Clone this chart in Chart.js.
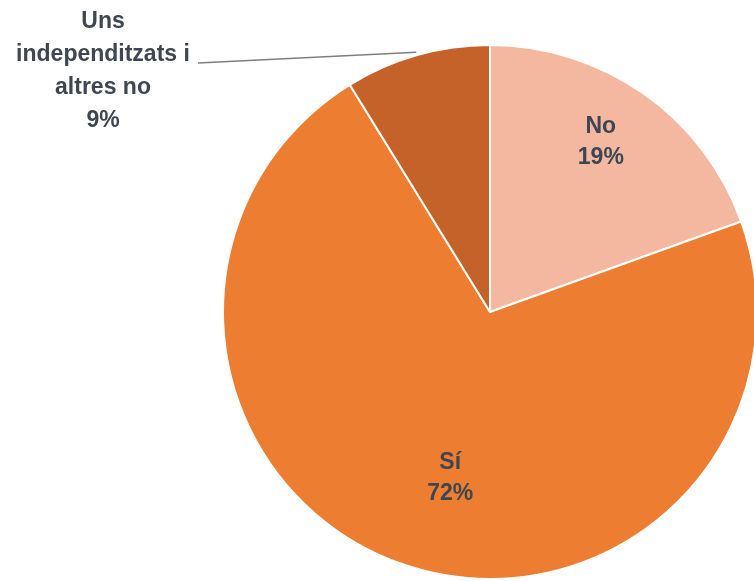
<!DOCTYPE html>
<html>
<head>
<meta charset="utf-8">
<script src="https://cdn.jsdelivr.net/npm/chart.js@4/dist/chart.umd.min.js"></script>
<style>
  html, body { margin: 0; padding: 0; background: #ffffff; }
  #wrap { width: 754px; height: 581px; position: relative; }
</style>
</head>
<body>
<div id="wrap"><canvas id="pie"></canvas></div>
<script>
var categories = ['No', 'Sí', 'Uns independitzats i altres no'];
var values = [19.5, 71.7, 8.8];
var pctLabels = ['19%', '72%', '9%'];
var labelLines = [['No'], ['Sí'], ['Uns', 'independitzats i', 'altres no']];
var colors = ['#F4B8A1', '#ED7D31', '#C4622A'];

var textColor = '#3E4652';
var labelFont = 'bold 23px "Liberation Sans", Arial, sans-serif';

// where to put each label inside its slice (fraction of radius, angle shift in degrees)
var inside = [
    { f: 0.76, dA: -2 },
    { f: 0.64, dA: -5.8 },
    null
];

var sliceLabels = {
    id: 'sliceLabels',
    afterDatasetsDraw: function (chart) {
        var ctx = chart.ctx;
        var meta = chart.getDatasetMeta(0);
        ctx.save();
        ctx.font = labelFont;
        ctx.fillStyle = textColor;
        ctx.textAlign = 'center';
        ctx.textBaseline = 'middle';
        meta.data.forEach(function (arc, i) {
            var p = arc.getProps(['x', 'y', 'startAngle', 'endAngle', 'outerRadius'], true);
            var mid = (p.startAngle + p.endAngle) / 2;
            var lines = labelLines[i].concat([pctLabels[i]]);
            if (inside[i]) {
                var a = mid + inside[i].dA * Math.PI / 180;
                var r = p.outerRadius * inside[i].f;
                var cx = p.x + Math.cos(a) * r;
                var cy = p.y + Math.sin(a) * r;
                var top = cy - (lines.length - 1) * 31 / 2;
                lines.forEach(function (t, k) { ctx.fillText(t, cx, top + k * 31); });
            } else {
                // outside label with leader line
                var ex = p.x + Math.cos(mid) * (p.outerRadius + 3);
                var ey = p.y + Math.sin(mid) * (p.outerRadius + 3);
                var tx = 103, ty = 22;
                lines.forEach(function (t, k) { ctx.fillText(t, tx, ty + k * 33); });
                ctx.strokeStyle = '#7f7f7f';
                ctx.lineWidth = 1.3;
                ctx.beginPath();
                ctx.moveTo(ex, ey);
                ctx.lineTo(198, 63);
                ctx.stroke();
            }
        });
        ctx.restore();
    }
};

new Chart(document.getElementById('pie'), {
    type: 'pie',
    data: {
        labels: categories,
        datasets: [{
            data: values,
            backgroundColor: colors,
            borderColor: '#ffffff',
            borderWidth: 2,
            radius: 267,
            clip: false
        }]
    },
    options: {
        responsive: true,
        maintainAspectRatio: false,
        animation: false,
        layout: { padding: { left: 226, right: 0, top: 43, bottom: 0 } },
        plugins: {
            legend: { display: false },
            tooltip: { enabled: false }
        }
    },
    plugins: [sliceLabels]
});
</script>
</body>
</html>
